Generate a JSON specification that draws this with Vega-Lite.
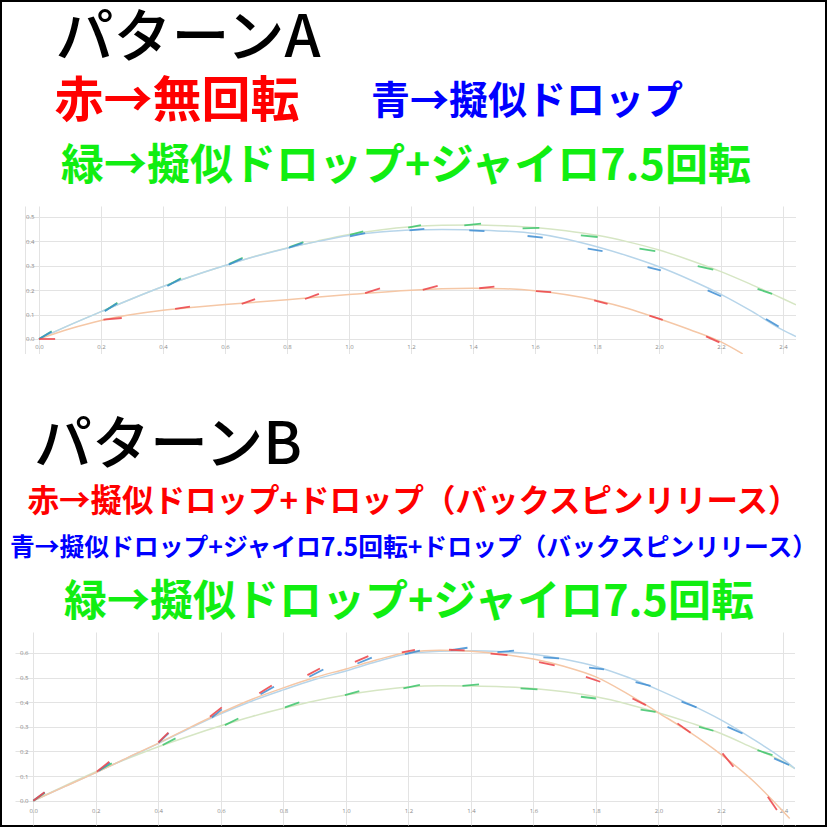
{
"$schema": "https://vega.github.io/schema/vega-lite/v6.json",
"background": "black",
"padding": 2,
"spacing": 0,
"config": {
  "view": {"fill": "white", "stroke": null},
  "concat": {"spacing": 0},
  "axis": {"grid": true, "gridColor": "#e3e3e3", "gridWidth": 1, "ticks": false, "domain": false, "title": null, "labelFontSize": 6, "labelColor": "#8a8a8a", "labelFont": "Open Sans", "labelFlush": false, "labelOverlap": false}
},
"datasets": {
  "curves": [
    {"p":"A","s":"r","x":0,"y":0},{"p":"A","s":"r","x":0.1,"y":0.042},{"p":"A","s":"r","x":0.2,"y":0.076},{"p":"A","s":"r","x":0.3,"y":0.1},{"p":"A","s":"r","x":0.4,"y":0.118},{"p":"A","s":"r","x":0.5,"y":0.13},{"p":"A","s":"r","x":0.6,"y":0.141},{"p":"A","s":"r","x":0.8,"y":0.161},{"p":"A","s":"r","x":1.0,"y":0.182},{"p":"A","s":"r","x":1.2,"y":0.2},{"p":"A","s":"r","x":1.3,"y":0.206},{"p":"A","s":"r","x":1.4,"y":0.208},{"p":"A","s":"r","x":1.5,"y":0.206},{"p":"A","s":"r","x":1.6,"y":0.198},{"p":"A","s":"r","x":1.8,"y":0.158},{"p":"A","s":"r","x":1.9,"y":0.125},{"p":"A","s":"r","x":2.0,"y":0.083},{"p":"A","s":"r","x":2.1,"y":0.038},{"p":"A","s":"r","x":2.2,"y":-0.012},{"p":"A","s":"r","x":2.27,"y":-0.061},
    {"p":"A","s":"g","x":0,"y":0},{"p":"A","s":"g","x":0.1,"y":0.058},{"p":"A","s":"g","x":0.2,"y":0.112},{"p":"A","s":"g","x":0.3,"y":0.165},{"p":"A","s":"g","x":0.4,"y":0.215},{"p":"A","s":"g","x":0.5,"y":0.26},{"p":"A","s":"g","x":0.6,"y":0.301},{"p":"A","s":"g","x":0.7,"y":0.34},{"p":"A","s":"g","x":0.8,"y":0.373},{"p":"A","s":"g","x":0.9,"y":0.402},{"p":"A","s":"g","x":1.0,"y":0.428},{"p":"A","s":"g","x":1.1,"y":0.447},{"p":"A","s":"g","x":1.2,"y":0.46},{"p":"A","s":"g","x":1.3,"y":0.466},{"p":"A","s":"g","x":1.4,"y":0.467},{"p":"A","s":"g","x":1.5,"y":0.464},{"p":"A","s":"g","x":1.6,"y":0.457},{"p":"A","s":"g","x":1.7,"y":0.444},{"p":"A","s":"g","x":1.8,"y":0.425},{"p":"A","s":"g","x":1.9,"y":0.398},{"p":"A","s":"g","x":2.0,"y":0.365},{"p":"A","s":"g","x":2.1,"y":0.323},{"p":"A","s":"g","x":2.2,"y":0.276},{"p":"A","s":"g","x":2.3,"y":0.222},{"p":"A","s":"g","x":2.4,"y":0.165},{"p":"A","s":"g","x":2.442,"y":0.14},
    {"p":"A","s":"b","x":0,"y":0},{"p":"A","s":"b","x":0.1,"y":0.058},{"p":"A","s":"b","x":0.2,"y":0.112},{"p":"A","s":"b","x":0.3,"y":0.165},{"p":"A","s":"b","x":0.4,"y":0.215},{"p":"A","s":"b","x":0.5,"y":0.26},{"p":"A","s":"b","x":0.6,"y":0.301},{"p":"A","s":"b","x":0.7,"y":0.339},{"p":"A","s":"b","x":0.8,"y":0.372},{"p":"A","s":"b","x":0.9,"y":0.4},{"p":"A","s":"b","x":1.0,"y":0.424},{"p":"A","s":"b","x":1.1,"y":0.438},{"p":"A","s":"b","x":1.2,"y":0.447},{"p":"A","s":"b","x":1.3,"y":0.449},{"p":"A","s":"b","x":1.4,"y":0.447},{"p":"A","s":"b","x":1.5,"y":0.442},{"p":"A","s":"b","x":1.6,"y":0.432},{"p":"A","s":"b","x":1.7,"y":0.41},{"p":"A","s":"b","x":1.8,"y":0.378},{"p":"A","s":"b","x":1.9,"y":0.34},{"p":"A","s":"b","x":2.0,"y":0.296},{"p":"A","s":"b","x":2.1,"y":0.243},{"p":"A","s":"b","x":2.2,"y":0.183},{"p":"A","s":"b","x":2.3,"y":0.113},{"p":"A","s":"b","x":2.4,"y":0.036},{"p":"A","s":"b","x":2.442,"y":0.01},
    {"p":"B","s":"g","x":0,"y":0},{"p":"B","s":"g","x":0.1,"y":0.06},{"p":"B","s":"g","x":0.2,"y":0.118},{"p":"B","s":"g","x":0.3,"y":0.17},{"p":"B","s":"g","x":0.4,"y":0.219},{"p":"B","s":"g","x":0.5,"y":0.263},{"p":"B","s":"g","x":0.6,"y":0.304},{"p":"B","s":"g","x":0.7,"y":0.342},{"p":"B","s":"g","x":0.8,"y":0.375},{"p":"B","s":"g","x":0.9,"y":0.405},{"p":"B","s":"g","x":1.0,"y":0.429},{"p":"B","s":"g","x":1.1,"y":0.448},{"p":"B","s":"g","x":1.2,"y":0.462},{"p":"B","s":"g","x":1.3,"y":0.467},{"p":"B","s":"g","x":1.4,"y":0.466},{"p":"B","s":"g","x":1.5,"y":0.463},{"p":"B","s":"g","x":1.6,"y":0.456},{"p":"B","s":"g","x":1.7,"y":0.442},{"p":"B","s":"g","x":1.8,"y":0.422},{"p":"B","s":"g","x":1.9,"y":0.393},{"p":"B","s":"g","x":2.0,"y":0.357},{"p":"B","s":"g","x":2.1,"y":0.317},{"p":"B","s":"g","x":2.2,"y":0.273},{"p":"B","s":"g","x":2.3,"y":0.216},{"p":"B","s":"g","x":2.4,"y":0.158},{"p":"B","s":"g","x":2.437,"y":0.13},
    {"p":"B","s":"r","x":0,"y":0},{"p":"B","s":"r","x":0.1,"y":0.057},{"p":"B","s":"r","x":0.2,"y":0.114},{"p":"B","s":"r","x":0.3,"y":0.174},{"p":"B","s":"r","x":0.4,"y":0.234},{"p":"B","s":"r","x":0.5,"y":0.297},{"p":"B","s":"r","x":0.6,"y":0.357},{"p":"B","s":"r","x":0.7,"y":0.412},{"p":"B","s":"r","x":0.8,"y":0.458},{"p":"B","s":"r","x":0.9,"y":0.5},{"p":"B","s":"r","x":1.0,"y":0.535},{"p":"B","s":"r","x":1.1,"y":0.572},{"p":"B","s":"r","x":1.2,"y":0.603},{"p":"B","s":"r","x":1.3,"y":0.611},{"p":"B","s":"r","x":1.4,"y":0.607},{"p":"B","s":"r","x":1.5,"y":0.595},{"p":"B","s":"r","x":1.6,"y":0.575},{"p":"B","s":"r","x":1.7,"y":0.545},{"p":"B","s":"r","x":1.8,"y":0.503},{"p":"B","s":"r","x":1.9,"y":0.435},{"p":"B","s":"r","x":2.0,"y":0.357},{"p":"B","s":"r","x":2.1,"y":0.278},{"p":"B","s":"r","x":2.2,"y":0.188},{"p":"B","s":"r","x":2.3,"y":0.084},{"p":"B","s":"r","x":2.4,"y":-0.045},{"p":"B","s":"r","x":2.42,"y":-0.072},
    {"p":"B","s":"b","x":0,"y":0},{"p":"B","s":"b","x":0.1,"y":0.057},{"p":"B","s":"b","x":0.2,"y":0.114},{"p":"B","s":"b","x":0.3,"y":0.173},{"p":"B","s":"b","x":0.4,"y":0.232},{"p":"B","s":"b","x":0.5,"y":0.294},{"p":"B","s":"b","x":0.6,"y":0.353},{"p":"B","s":"b","x":0.7,"y":0.405},{"p":"B","s":"b","x":0.8,"y":0.45},{"p":"B","s":"b","x":0.9,"y":0.492},{"p":"B","s":"b","x":1.0,"y":0.527},{"p":"B","s":"b","x":1.1,"y":0.565},{"p":"B","s":"b","x":1.2,"y":0.597},{"p":"B","s":"b","x":1.3,"y":0.607},{"p":"B","s":"b","x":1.4,"y":0.609},{"p":"B","s":"b","x":1.5,"y":0.605},{"p":"B","s":"b","x":1.6,"y":0.595},{"p":"B","s":"b","x":1.7,"y":0.574},{"p":"B","s":"b","x":1.8,"y":0.545},{"p":"B","s":"b","x":1.9,"y":0.502},{"p":"B","s":"b","x":2.0,"y":0.45},{"p":"B","s":"b","x":2.1,"y":0.392},{"p":"B","s":"b","x":2.2,"y":0.328},{"p":"B","s":"b","x":2.3,"y":0.252},{"p":"B","s":"b","x":2.4,"y":0.168},{"p":"B","s":"b","x":2.437,"y":0.13}
  ],
  "segs": [
    {"p":"A","s":"r","k":1,"x":0,"y":0},{"p":"A","s":"r","k":1,"x":0.052,"y":0},
    {"p":"A","s":"r","k":2,"x":0.208,"y":0.079},{"p":"A","s":"r","k":2,"x":0.267,"y":0.086},
    {"p":"A","s":"r","k":3,"x":0.439,"y":0.123},{"p":"A","s":"r","k":3,"x":0.487,"y":0.133},
    {"p":"A","s":"r","k":4,"x":0.654,"y":0.144},{"p":"A","s":"r","k":4,"x":0.697,"y":0.163},
    {"p":"A","s":"r","k":5,"x":0.858,"y":0.164},{"p":"A","s":"r","k":5,"x":0.903,"y":0.185},
    {"p":"A","s":"r","k":6,"x":1.052,"y":0.188},{"p":"A","s":"r","k":6,"x":1.1,"y":0.207},
    {"p":"A","s":"r","k":7,"x":1.238,"y":0.201},{"p":"A","s":"r","k":7,"x":1.286,"y":0.218},
    {"p":"A","s":"r","k":8,"x":1.42,"y":0.208},{"p":"A","s":"r","k":8,"x":1.469,"y":0.215},
    {"p":"A","s":"r","k":9,"x":1.603,"y":0.196},{"p":"A","s":"r","k":9,"x":1.652,"y":0.192},
    {"p":"A","s":"r","k":10,"x":1.791,"y":0.158},{"p":"A","s":"r","k":10,"x":1.834,"y":0.144},
    {"p":"A","s":"r","k":11,"x":1.969,"y":0.096},{"p":"A","s":"r","k":11,"x":2.012,"y":0.078},
    {"p":"A","s":"r","k":12,"x":2.152,"y":0.011},{"p":"A","s":"r","k":12,"x":2.195,"y":-0.014},
    {"p":"A","s":"g","k":1,"x":0,"y":0},{"p":"A","s":"g","k":1,"x":0.041,"y":0.032},
    {"p":"A","s":"g","k":2,"x":0.213,"y":0.116},{"p":"A","s":"g","k":2,"x":0.253,"y":0.148},
    {"p":"A","s":"g","k":3,"x":0.415,"y":0.219},{"p":"A","s":"g","k":3,"x":0.458,"y":0.249},
    {"p":"A","s":"g","k":4,"x":0.614,"y":0.308},{"p":"A","s":"g","k":4,"x":0.657,"y":0.333},
    {"p":"A","s":"g","k":5,"x":0.808,"y":0.377},{"p":"A","s":"g","k":5,"x":0.853,"y":0.397},
    {"p":"A","s":"g","k":6,"x":1.003,"y":0.427},{"p":"A","s":"g","k":6,"x":1.046,"y":0.441},
    {"p":"A","s":"g","k":7,"x":1.191,"y":0.456},{"p":"A","s":"g","k":7,"x":1.232,"y":0.467},
    {"p":"A","s":"g","k":8,"x":1.372,"y":0.466},{"p":"A","s":"g","k":8,"x":1.426,"y":0.473},
    {"p":"A","s":"g","k":9,"x":1.56,"y":0.453},{"p":"A","s":"g","k":9,"x":1.614,"y":0.455},
    {"p":"A","s":"g","k":10,"x":1.748,"y":0.425},{"p":"A","s":"g","k":10,"x":1.802,"y":0.418},
    {"p":"A","s":"g","k":11,"x":1.937,"y":0.37},{"p":"A","s":"g","k":11,"x":1.988,"y":0.36},
    {"p":"A","s":"g","k":12,"x":2.125,"y":0.299},{"p":"A","s":"g","k":12,"x":2.175,"y":0.284},
    {"p":"A","s":"g","k":13,"x":2.318,"y":0.205},{"p":"A","s":"g","k":13,"x":2.365,"y":0.185},
    {"p":"A","s":"b","k":1,"x":0,"y":0},{"p":"A","s":"b","k":1,"x":0.04,"y":0.03},
    {"p":"A","s":"b","k":2,"x":0.212,"y":0.114},{"p":"A","s":"b","k":2,"x":0.251,"y":0.145},
    {"p":"A","s":"b","k":3,"x":0.414,"y":0.217},{"p":"A","s":"b","k":3,"x":0.456,"y":0.246},
    {"p":"A","s":"b","k":4,"x":0.612,"y":0.305},{"p":"A","s":"b","k":4,"x":0.655,"y":0.329},
    {"p":"A","s":"b","k":5,"x":0.806,"y":0.374},{"p":"A","s":"b","k":5,"x":0.85,"y":0.393},
    {"p":"A","s":"b","k":6,"x":1.003,"y":0.421},{"p":"A","s":"b","k":6,"x":1.052,"y":0.434},
    {"p":"A","s":"b","k":7,"x":1.195,"y":0.445},{"p":"A","s":"b","k":7,"x":1.243,"y":0.451},
    {"p":"A","s":"b","k":8,"x":1.388,"y":0.445},{"p":"A","s":"b","k":8,"x":1.437,"y":0.442},
    {"p":"A","s":"b","k":9,"x":1.576,"y":0.422},{"p":"A","s":"b","k":9,"x":1.625,"y":0.415},
    {"p":"A","s":"b","k":10,"x":1.77,"y":0.37},{"p":"A","s":"b","k":10,"x":1.818,"y":0.36},
    {"p":"A","s":"b","k":11,"x":1.963,"y":0.295},{"p":"A","s":"b","k":11,"x":2.006,"y":0.281},
    {"p":"A","s":"b","k":12,"x":2.157,"y":0.199},{"p":"A","s":"b","k":12,"x":2.2,"y":0.175},
    {"p":"A","s":"b","k":13,"x":2.345,"y":0.082},{"p":"A","s":"b","k":13,"x":2.386,"y":0.051},
    {"p":"B","s":"g","k":1,"x":0,"y":0},{"p":"B","s":"g","k":1,"x":0.037,"y":0.032},
    {"p":"B","s":"g","k":2,"x":0.211,"y":0.124},{"p":"B","s":"g","k":2,"x":0.251,"y":0.152},
    {"p":"B","s":"g","k":3,"x":0.414,"y":0.226},{"p":"B","s":"g","k":3,"x":0.455,"y":0.253},
    {"p":"B","s":"g","k":4,"x":0.613,"y":0.307},{"p":"B","s":"g","k":4,"x":0.656,"y":0.334},
    {"p":"B","s":"g","k":5,"x":0.805,"y":0.379},{"p":"B","s":"g","k":5,"x":0.851,"y":0.399},
    {"p":"B","s":"g","k":6,"x":0.997,"y":0.429},{"p":"B","s":"g","k":6,"x":1.043,"y":0.445},
    {"p":"B","s":"g","k":7,"x":1.184,"y":0.456},{"p":"B","s":"g","k":7,"x":1.237,"y":0.47},
    {"p":"B","s":"g","k":8,"x":1.373,"y":0.466},{"p":"B","s":"g","k":8,"x":1.426,"y":0.472},
    {"p":"B","s":"g","k":9,"x":1.559,"y":0.456},{"p":"B","s":"g","k":9,"x":1.613,"y":0.452},
    {"p":"B","s":"g","k":10,"x":1.752,"y":0.422},{"p":"B","s":"g","k":10,"x":1.8,"y":0.415},
    {"p":"B","s":"g","k":11,"x":1.943,"y":0.37},{"p":"B","s":"g","k":11,"x":1.991,"y":0.361},
    {"p":"B","s":"g","k":12,"x":2.13,"y":0.3},{"p":"B","s":"g","k":12,"x":2.176,"y":0.284},
    {"p":"B","s":"g","k":13,"x":2.317,"y":0.205},{"p":"B","s":"g","k":13,"x":2.365,"y":0.185},
    {"p":"B","s":"r","k":1,"x":0,"y":0},{"p":"B","s":"r","k":1,"x":0.036,"y":0.034},
    {"p":"B","s":"r","k":2,"x":0.203,"y":0.118},{"p":"B","s":"r","k":2,"x":0.243,"y":0.158},
    {"p":"B","s":"r","k":3,"x":0.4,"y":0.237},{"p":"B","s":"r","k":3,"x":0.432,"y":0.276},
    {"p":"B","s":"r","k":4,"x":0.565,"y":0.341},{"p":"B","s":"r","k":4,"x":0.603,"y":0.379},
    {"p":"B","s":"r","k":5,"x":0.723,"y":0.436},{"p":"B","s":"r","k":5,"x":0.763,"y":0.468},
    {"p":"B","s":"r","k":6,"x":0.877,"y":0.51},{"p":"B","s":"r","k":6,"x":0.917,"y":0.537},
    {"p":"B","s":"r","k":7,"x":1.029,"y":0.564},{"p":"B","s":"r","k":7,"x":1.072,"y":0.587},
    {"p":"B","s":"r","k":8,"x":1.179,"y":0.602},{"p":"B","s":"r","k":8,"x":1.221,"y":0.612},
    {"p":"B","s":"r","k":9,"x":1.33,"y":0.613},{"p":"B","s":"r","k":9,"x":1.38,"y":0.61},
    {"p":"B","s":"r","k":10,"x":1.463,"y":0.597},{"p":"B","s":"r","k":10,"x":1.517,"y":0.591},
    {"p":"B","s":"r","k":11,"x":1.618,"y":0.563},{"p":"B","s":"r","k":11,"x":1.668,"y":0.549},
    {"p":"B","s":"r","k":12,"x":1.768,"y":0.503},{"p":"B","s":"r","k":12,"x":1.814,"y":0.483},
    {"p":"B","s":"r","k":13,"x":1.917,"y":0.415},{"p":"B","s":"r","k":13,"x":1.96,"y":0.388},
    {"p":"B","s":"r","k":14,"x":2.061,"y":0.314},{"p":"B","s":"r","k":14,"x":2.103,"y":0.276},
    {"p":"B","s":"r","k":15,"x":2.205,"y":0.192},{"p":"B","s":"r","k":15,"x":2.24,"y":0.138},
    {"p":"B","s":"r","k":16,"x":2.35,"y":0.016},{"p":"B","s":"r","k":16,"x":2.379,"y":-0.038},
    {"p":"B","s":"b","k":1,"x":0,"y":0},{"p":"B","s":"b","k":1,"x":0.036,"y":0.033},
    {"p":"B","s":"b","k":2,"x":0.208,"y":0.12},{"p":"B","s":"b","k":2,"x":0.245,"y":0.154},
    {"p":"B","s":"b","k":3,"x":0.401,"y":0.236},{"p":"B","s":"b","k":3,"x":0.433,"y":0.274},
    {"p":"B","s":"b","k":4,"x":0.571,"y":0.338},{"p":"B","s":"b","k":4,"x":0.603,"y":0.371},
    {"p":"B","s":"b","k":5,"x":0.727,"y":0.432},{"p":"B","s":"b","k":5,"x":0.77,"y":0.463},
    {"p":"B","s":"b","k":6,"x":0.883,"y":0.503},{"p":"B","s":"b","k":6,"x":0.928,"y":0.533},
    {"p":"B","s":"b","k":7,"x":1.037,"y":0.557},{"p":"B","s":"b","k":7,"x":1.083,"y":0.581},
    {"p":"B","s":"b","k":8,"x":1.189,"y":0.595},{"p":"B","s":"b","k":8,"x":1.237,"y":0.609},
    {"p":"B","s":"b","k":9,"x":1.336,"y":0.611},{"p":"B","s":"b","k":9,"x":1.389,"y":0.621},
    {"p":"B","s":"b","k":10,"x":1.485,"y":0.603},{"p":"B","s":"b","k":10,"x":1.538,"y":0.609},
    {"p":"B","s":"b","k":11,"x":1.632,"y":0.582},{"p":"B","s":"b","k":11,"x":1.682,"y":0.578},
    {"p":"B","s":"b","k":12,"x":1.778,"y":0.54},{"p":"B","s":"b","k":12,"x":1.826,"y":0.533},
    {"p":"B","s":"b","k":13,"x":1.927,"y":0.481},{"p":"B","s":"b","k":13,"x":1.975,"y":0.466},
    {"p":"B","s":"b","k":14,"x":2.074,"y":0.402},{"p":"B","s":"b","k":14,"x":2.122,"y":0.379},
    {"p":"B","s":"b","k":15,"x":2.221,"y":0.3},{"p":"B","s":"b","k":15,"x":2.269,"y":0.273},
    {"p":"B","s":"b","k":16,"x":2.37,"y":0.172},{"p":"B","s":"b","k":16,"x":2.418,"y":0.145}
  ]
},
"vconcat": [
  {"hconcat": [
    {"width": 372, "height": 75, "data": {"values": [{"t": "パターンA"}]}, "mark": {"type": "text", "font": "Noto Sans CJK JP", "fontSize": 58, "fontWeight": 500, "color": "#000000", "align": "center", "baseline": "middle"}, "encoding": {"x": {"field": "t", "type": "nominal", "axis": null}, "y": {"field": "t", "type": "nominal", "axis": null}, "text": {"field": "t"}}},
    {"width": 451, "height": 75, "data": {"values": [{"t": ""}]}, "mark": {"type": "text"}, "encoding": {"x": {"field": "t", "type": "nominal", "axis": null}, "y": {"field": "t", "type": "nominal", "axis": null}}}
  ], "spacing": 0},
  {"hconcat": [
    {"width": 350, "height": 50, "data": {"values": [{"t": "赤→無回転"}]}, "mark": {"type": "text", "font": "Noto Sans CJK JP", "fontSize": 49, "fontWeight": "bold", "color": "#ff0000", "align": "center", "baseline": "middle"}, "encoding": {"x": {"field": "t", "type": "nominal", "axis": null}, "y": {"field": "t", "type": "nominal", "axis": null}, "text": {"field": "t"}}},
    {"width": 350, "height": 50, "data": {"values": [{"t": "青→擬似ドロップ"}]}, "mark": {"type": "text", "font": "Noto Sans CJK JP", "fontSize": 39, "fontWeight": "bold", "color": "#0000ff", "align": "center", "baseline": "middle"}, "encoding": {"x": {"field": "t", "type": "nominal", "axis": null}, "y": {"field": "t", "type": "nominal", "axis": null}, "text": {"field": "t"}}},
    {"width": 123, "height": 50, "data": {"values": [{"t": ""}]}, "mark": {"type": "text"}, "encoding": {"x": {"field": "t", "type": "nominal", "axis": null}, "y": {"field": "t", "type": "nominal", "axis": null}}}
  ], "spacing": 0},
  {"hconcat": [
    {"width": 808, "height": 79, "data": {"values": [{"t": "緑→擬似ドロップ+ジャイロ7.5回転"}]}, "mark": {"type": "text", "font": "Noto Sans CJK JP", "fontSize": 43, "fontWeight": "bold", "color": "#11ee11", "align": "center", "baseline": "middle"}, "encoding": {"x": {"field": "t", "type": "nominal", "axis": null}, "y": {"field": "t", "type": "nominal", "axis": null}, "text": {"field": "t"}}},
    {"width": 15, "height": 79, "data": {"values": [{"t": ""}]}, "mark": {"type": "text"}, "encoding": {"x": {"field": "t", "type": "nominal", "axis": null}, "y": {"field": "t", "type": "nominal", "axis": null}}}
  ], "spacing": 0},
  {"hconcat": [
    {"width": 23, "height": 148, "data": {"values": [{"t": ""}]}, "mark": {"type": "text"}, "encoding": {"x": {"field": "t", "type": "nominal", "axis": null}, "y": {"field": "t", "type": "nominal", "axis": null}}},
    {"width": 771, "height": 148,
     "encoding": {
       "x": {"field": "x", "type": "quantitative", "scale": {"domain": [-0.0452, 2.442], "nice": false, "zero": false}, "axis": {"values": [-0.0452,0,0.2,0.4,0.6,0.8,1,1.2,1.4,1.6,1.8,2,2.2,2.4,2.442], "labelExpr": "datum.value < -0.001 || datum.value > 2.41 ? '' : format(datum.value, '.1f')", "offset": -13, "labelPadding": 2, "title": null}},
       "y": {"field": "y", "type": "quantitative", "scale": {"domain": [-0.0615, 0.545], "nice": false, "zero": false}, "axis": {"values": [0,0.1,0.2,0.3,0.4,0.5], "format": ".1f", "offset": -12, "labelPadding": 3, "title": null}}
     },
     "layer": [
       {"data": {"name": "curves"}, "transform": [{"filter": "datum.p == 'A' && datum.s == 'g'"}], "mark": {"type": "line", "color": "#d6e6c4", "strokeWidth": 1.5, "interpolate": "monotone", "clip": true}},
       {"data": {"name": "curves"}, "transform": [{"filter": "datum.p == 'A' && datum.s == 'b'"}], "mark": {"type": "line", "color": "#b7d5ea", "strokeWidth": 1.5, "interpolate": "monotone", "clip": true}},
       {"data": {"name": "curves"}, "transform": [{"filter": "datum.p == 'A' && datum.s == 'r'"}], "mark": {"type": "line", "color": "#f5c7a6", "strokeWidth": 1.5, "interpolate": "monotone", "clip": true}},
       {"data": {"name": "segs"}, "transform": [{"filter": "datum.p == 'A' && datum.s == 'g'"}], "mark": {"type": "line", "color": "#3cc46b", "strokeWidth": 1.8, "opacity": 0.85, "clip": true}, "encoding": {"detail": {"field": "k", "type": "nominal"}}},
       {"data": {"name": "segs"}, "transform": [{"filter": "datum.p == 'A' && datum.s == 'b'"}], "mark": {"type": "line", "color": "#3d8dd2", "strokeWidth": 1.8, "opacity": 0.85, "clip": true}, "encoding": {"detail": {"field": "k", "type": "nominal"}}},
       {"data": {"name": "segs"}, "transform": [{"filter": "datum.p == 'A' && datum.s == 'r'"}], "mark": {"type": "line", "color": "#ec4a4f", "strokeWidth": 1.8, "opacity": 0.9, "clip": true}, "encoding": {"detail": {"field": "k", "type": "nominal"}}}
     ]},
    {"width": 29, "height": 148, "data": {"values": [{"t": ""}]}, "mark": {"type": "text"}, "encoding": {"x": {"field": "t", "type": "nominal", "axis": null}, "y": {"field": "t", "type": "nominal", "axis": null}}}
  ], "spacing": 0},
  {"width": 823, "height": 58, "data": {"values": [{"t": ""}]}, "mark": {"type": "text"}, "encoding": {"x": {"field": "t", "type": "nominal", "axis": null}, "y": {"field": "t", "type": "nominal", "axis": null}}},
  {"hconcat": [
    {"width": 332, "height": 70, "data": {"values": [{"t": "パターンB"}]}, "mark": {"type": "text", "font": "Noto Sans CJK JP", "fontSize": 58, "fontWeight": 500, "color": "#000000", "align": "center", "baseline": "middle"}, "encoding": {"x": {"field": "t", "type": "nominal", "axis": null}, "y": {"field": "t", "type": "nominal", "axis": null}, "text": {"field": "t"}}},
    {"width": 491, "height": 70, "data": {"values": [{"t": ""}]}, "mark": {"type": "text"}, "encoding": {"x": {"field": "t", "type": "nominal", "axis": null}, "y": {"field": "t", "type": "nominal", "axis": null}}}
  ], "spacing": 0},
  {"width": 823, "height": 42, "data": {"values": [{"t": "赤→擬似ドロップ+ドロップ（バックスピンリリース）"}]}, "mark": {"type": "text", "font": "Noto Sans CJK JP", "fontSize": 31.5, "fontWeight": "bold", "color": "#ff0000", "align": "center", "baseline": "middle"}, "encoding": {"x": {"field": "t", "type": "nominal", "axis": null}, "y": {"field": "t", "type": "nominal", "axis": null}, "text": {"field": "t"}}},
  {"width": 823, "height": 50, "data": {"values": [{"t": "青→擬似ドロップ+ジャイロ7.5回転+ドロップ（バックスピンリリース）"}]}, "mark": {"type": "text", "font": "Noto Sans CJK JP", "fontSize": 24.8, "fontWeight": "bold", "color": "#0000ff", "align": "center", "baseline": "middle"}, "encoding": {"x": {"field": "t", "type": "nominal", "axis": null}, "y": {"field": "t", "type": "nominal", "axis": null}, "text": {"field": "t"}}},
  {"hconcat": [
    {"width": 814, "height": 58, "data": {"values": [{"t": "緑→擬似ドロップ+ジャイロ7.5回転"}]}, "mark": {"type": "text", "font": "Noto Sans CJK JP", "fontSize": 43, "fontWeight": "bold", "color": "#11ee11", "align": "center", "baseline": "middle"}, "encoding": {"x": {"field": "t", "type": "nominal", "axis": null}, "y": {"field": "t", "type": "nominal", "axis": null}, "text": {"field": "t"}}},
    {"width": 9, "height": 58, "data": {"values": [{"t": ""}]}, "mark": {"type": "text"}, "encoding": {"x": {"field": "t", "type": "nominal", "axis": null}, "y": {"field": "t", "type": "nominal", "axis": null}}}
  ], "spacing": 0},
  {"hconcat": [
    {"width": 13, "height": 193, "data": {"values": [{"t": ""}]}, "mark": {"type": "text"}, "encoding": {"x": {"field": "t", "type": "nominal", "axis": null}, "y": {"field": "t", "type": "nominal", "axis": null}}},
    {"width": 780, "height": 193,
     "encoding": {
       "x": {"field": "x", "type": "quantitative", "scale": {"domain": [-0.0586, 2.437], "nice": false, "zero": false}, "axis": {"values": [0,0.2,0.4,0.6,0.8,1,1.2,1.4,1.6,1.8,2,2.2,2.4,2.437], "labelExpr": "datum.value < -0.001 || datum.value > 2.41 ? '' : format(datum.value, '.1f')", "offset": -20, "labelPadding": 2, "title": null}},
       "y": {"field": "y", "type": "quantitative", "scale": {"domain": [-0.0987, 0.685], "nice": false, "zero": false}, "axis": {"values": [0,0.1,0.2,0.3,0.4,0.5,0.6], "format": ".1f", "offset": -16, "labelPadding": 3, "title": null}}
     },
     "layer": [
       {"data": {"name": "curves"}, "transform": [{"filter": "datum.p == 'B' && datum.s == 'g'"}], "mark": {"type": "line", "color": "#d6e6c4", "strokeWidth": 1.5, "interpolate": "monotone", "clip": true}},
       {"data": {"name": "curves"}, "transform": [{"filter": "datum.p == 'B' && datum.s == 'b'"}], "mark": {"type": "line", "color": "#b7d5ea", "strokeWidth": 1.5, "interpolate": "monotone", "clip": true}},
       {"data": {"name": "curves"}, "transform": [{"filter": "datum.p == 'B' && datum.s == 'r'"}], "mark": {"type": "line", "color": "#f5c7a6", "strokeWidth": 1.5, "interpolate": "monotone", "clip": true}},
       {"data": {"name": "segs"}, "transform": [{"filter": "datum.p == 'B' && datum.s == 'g'"}], "mark": {"type": "line", "color": "#3cc46b", "strokeWidth": 1.8, "opacity": 0.85, "clip": true}, "encoding": {"detail": {"field": "k", "type": "nominal"}}},
       {"data": {"name": "segs"}, "transform": [{"filter": "datum.p == 'B' && datum.s == 'b'"}], "mark": {"type": "line", "color": "#3d8dd2", "strokeWidth": 1.8, "opacity": 0.85, "clip": true}, "encoding": {"detail": {"field": "k", "type": "nominal"}}},
       {"data": {"name": "segs"}, "transform": [{"filter": "datum.p == 'B' && datum.s == 'r'"}], "mark": {"type": "line", "color": "#ec4a4f", "strokeWidth": 1.8, "opacity": 0.9, "clip": true}, "encoding": {"detail": {"field": "k", "type": "nominal"}}}
     ]},
    {"width": 30, "height": 193, "data": {"values": [{"t": ""}]}, "mark": {"type": "text"}, "encoding": {"x": {"field": "t", "type": "nominal", "axis": null}, "y": {"field": "t", "type": "nominal", "axis": null}}}
  ], "spacing": 0}
]
}
